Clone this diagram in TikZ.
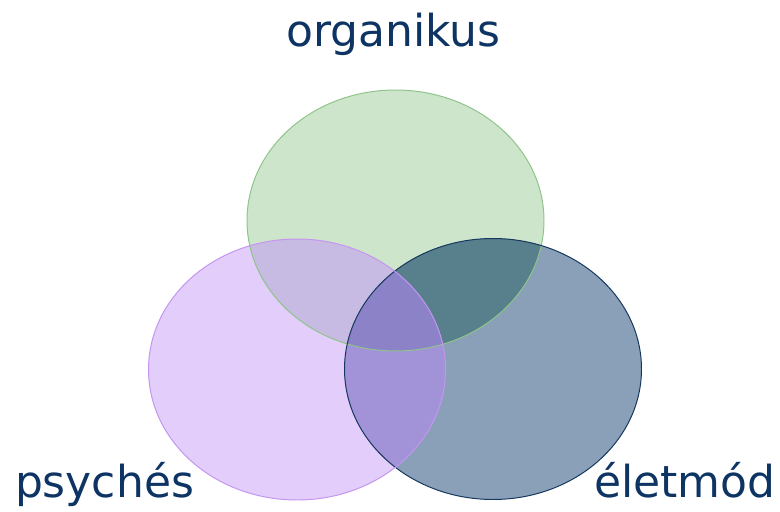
\documentclass[tikz,border=0pt]{standalone}
\usepackage{fontspec}
\setmainfont{DejaVu Sans}
\definecolor{labelblue}{RGB}{14,52,100}
\definecolor{greenfill}{RGB}{205,229,202}
\definecolor{purplefill}{RGB}{226,205,251}
\definecolor{bluefill}{RGB}{138,160,185}
\definecolor{gpfill}{RGB}{200,187,227}
\definecolor{gbfill}{RGB}{88,128,140}
\definecolor{pbfill}{RGB}{162,146,216}
\definecolor{allfill}{RGB}{140,130,200}
\definecolor{greenline}{RGB}{143,196,138}
\definecolor{purpleline}{RGB}{196,150,240}
\definecolor{blueline}{RGB}{23,55,94}
\begin{document}
\begin{tikzpicture}[
	oval/.style={x radius=3.7125cm, y radius=3.2625cm},
	label text/.style={text=labelblue, font=\fontsize{31.3}{36}\selectfont, anchor=base, inner sep=0pt}
	]
		\useasboundingbox (0,0) rectangle (19.5,12.775);
		\coordinate (org) at (9.8875,7.2625);
		\coordinate (psy) at (7.425,3.5375);
		\coordinate (ele) at (12.325,3.55);
		
		\fill[greenfill] (org) ellipse [oval];
		\fill[purplefill] (psy) ellipse [oval];
		\fill[bluefill] (ele) ellipse [oval];
		
		\begin{scope}
			\clip (psy) ellipse [oval];
			\fill[pbfill] (ele) ellipse [oval];
		\end{scope}
		\begin{scope}
			\clip (org) ellipse [oval];
			\fill[gpfill] (psy) ellipse [oval];
			\fill[gbfill] (ele) ellipse [oval];
			\clip (psy) ellipse [oval];
			\fill[allfill] (ele) ellipse [oval];
		\end{scope}
		
		\draw[greenline,line width=0.7pt] (org) ellipse [oval];
		\draw[blueline,line width=0.7pt] (ele) ellipse [oval];
		\draw[purpleline,line width=0.7pt] (psy) ellipse [oval];
		
		\node[label text] (organikus) at (9.8375,11.6) {organikus};
		\node[label text] (psyches) at (2.6125,0.35) {psychés};
		\node[label text] (eletmod) at (17.125,0.35) {életmód};
\end{tikzpicture}
\end{document}
